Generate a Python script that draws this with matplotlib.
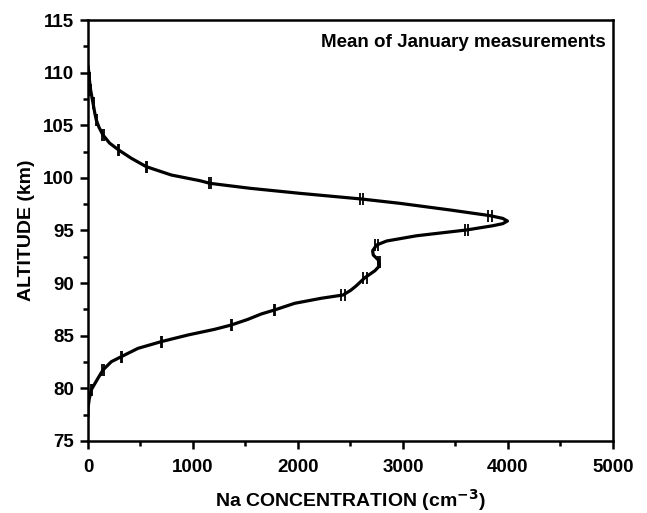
import matplotlib
matplotlib.use("Agg")
import matplotlib.pyplot as plt
from matplotlib.ticker import MultipleLocator

plt.rcParams['font.family'] = ['Liberation Sans', 'DejaVu Sans']
plt.rcParams['font.weight'] = 'bold'

# profile, top to bottom
altitude = [110.6, 110.0, 109.3, 108.35, 107.1, 106.2, 105.5, 104.8, 104.07, 103.3,
            102.65, 101.86, 101.06, 100.27, 99.73, 99.48, 99.01, 98.53, 97.99, 97.58,
            96.95, 96.41, 96.15, 95.9, 95.65, 95.46, 95.05, 94.5, 94.0, 93.62,
            93.08, 92.67, 92.20, 91.63, 91.18, 90.52, 89.7, 89.3, 88.87, 88.56,
            88.08, 87.45, 87.07, 86.56, 86.02, 85.61, 85.07, 84.44, 83.80, 83.01,
            82.53, 81.75, 80.96, 79.86, 79.0, 78.1, 77.4]
conc = [0, 8, 14, 25, 48, 64, 79, 105, 143, 206,
        292, 413, 556, 794, 1067, 1162, 1543, 2019, 2606, 2971,
        3448, 3829, 3950, 3995, 3950, 3860, 3606, 3130, 2844, 2749,
        2711, 2717, 2765, 2775, 2733, 2638, 2550, 2500, 2429, 2222,
        1968, 1778, 1651, 1524, 1365, 1206, 952, 698, 476, 317,
        222, 143, 95, 31, 12, 0, 0]

# measured points with horizontal error bars
err_alt = [109.5, 108.35, 107.1, 105.5, 104.07, 102.65, 101.06, 99.48, 97.99, 96.41,
           95.05, 93.62, 92.0, 90.52, 88.87, 87.45, 86.02, 84.44, 83.01, 81.75, 79.86]
err_conc = [10, 25, 48, 79, 143, 292, 556, 1162, 2606, 3829,
            3606, 2749, 2770, 2638, 2429, 1778, 1365, 698, 317, 143, 31]
err_size = [5, 5, 5, 5, 6, 6, 8, 8, 15, 18,
            18, 12, 10, 15, 15, 6, 5, 6, 6, 6, 6]

fig = plt.figure(figsize=(6.47, 5.13), dpi=100)
ax = fig.add_axes([0.136, 0.1404, 0.8114, 0.8206])

ax.plot(conc, altitude, color='black', lw=2.3, solid_joinstyle='round', zorder=3)
ax.errorbar(err_conc, err_alt, xerr=err_size, fmt='none', ecolor='black',
            elinewidth=1.2, capsize=4, capthick=1.3, zorder=4)

ax.set_xlim(0, 5000)
ax.set_ylim(75, 115)
ax.xaxis.set_major_locator(MultipleLocator(1000))
ax.xaxis.set_minor_locator(MultipleLocator(500))
ax.yaxis.set_major_locator(MultipleLocator(5))
ax.yaxis.set_minor_locator(MultipleLocator(2.5))
ax.tick_params(which='major', direction='out', length=6, width=1.8, labelsize=13.5, pad=4)
ax.tick_params(axis='x', which='major', pad=7)
ax.tick_params(which='minor', direction='out', length=3.5, width=1.8)
for s in ax.spines.values():
    s.set_linewidth(1.8)

ax.set_xlabel('Na CONCENTRATION (cm$^{\\mathbf{-3}}$)', fontsize=14, fontweight='bold', labelpad=8)
ax.set_ylabel('ALTITUDE (km)', fontsize=14, fontweight='bold', labelpad=6)
ax.text(0.987, 0.936, 'Mean of January measurements', transform=ax.transAxes,
        ha='right', va='baseline', fontsize=13.5, fontweight='bold')

fig.savefig('out.png', dpi=100)
